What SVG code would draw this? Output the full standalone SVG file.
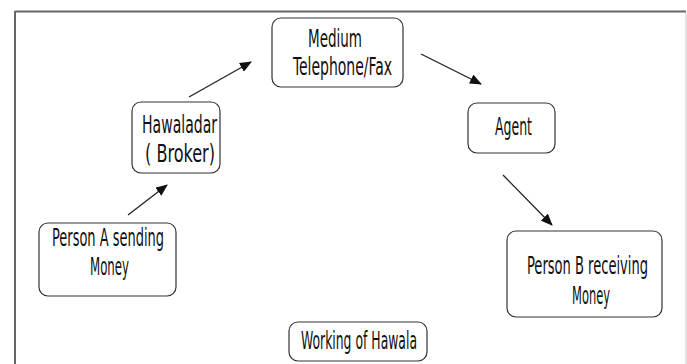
<svg xmlns="http://www.w3.org/2000/svg" width="687" height="364" viewBox="0 0 687 364">
<defs>
<marker id="ah" markerWidth="12" markerHeight="10" refX="11" refY="5" orient="auto" markerUnits="userSpaceOnUse">
<path d="M0,0 L12,5 L0,10 Z" fill="#111"/>
</marker>
<style>
.box{fill:#fff;stroke:#333;stroke-width:1.2}
.t{font-family:"DejaVu Sans Condensed","Liberation Sans Narrow","Liberation Sans",sans-serif;font-size:24px;fill:#111;text-anchor:start}
.c{stroke:#222;stroke-width:1.3;fill:none;marker-end:url(#ah)}
</style>
</defs>
<rect x="0" y="0" width="687" height="364" fill="#fff"/>
<g id="frame">
<line x1="15" y1="11.5" x2="686" y2="11.5" stroke="#666" stroke-width="2"/>
<line x1="15" y1="11" x2="15" y2="364" stroke="#666" stroke-width="2"/>
<line x1="686" y1="12" x2="686" y2="364" stroke="#c8c8c8" stroke-width="1"/>
</g>
<g id="connectors">
<line class="c" x1="128" y1="215" x2="167" y2="185"/>
<line class="c" x1="189" y1="97" x2="251" y2="62"/>
<line class="c" x1="421" y1="54" x2="481" y2="84"/>
<line class="c" x1="503" y1="175" x2="552" y2="225"/>
</g>
<g id="medium">
<rect class="box" x="272" y="18" width="131" height="69" rx="9"/>
<text class="t" x="308" y="47" textLength="54" lengthAdjust="spacingAndGlyphs">Medium</text>
<text class="t" x="293" y="75" textLength="99" lengthAdjust="spacingAndGlyphs">Telephone/Fax</text>
</g>
<g id="hawaladar">
<rect class="box" x="132" y="102" width="88" height="71" rx="9"/>
<text class="t" x="142" y="133" textLength="75" lengthAdjust="spacingAndGlyphs">Hawaladar</text>
<text class="t" x="145" y="162" textLength="70" lengthAdjust="spacingAndGlyphs">( Broker)</text>
</g>
<g id="agent">
<rect class="box" x="468" y="103" width="87" height="50" rx="9"/>
<text class="t" x="495" y="135" textLength="37" lengthAdjust="spacingAndGlyphs">Agent</text>
</g>
<g id="personA">
<rect class="box" x="39" y="223" width="137" height="73" rx="9"/>
<text class="t" x="52" y="246" textLength="112" lengthAdjust="spacingAndGlyphs">Person A sending</text>
<text class="t" x="90" y="275" textLength="39" lengthAdjust="spacingAndGlyphs">Money</text>
</g>
<g id="personB">
<rect class="box" x="507" y="231" width="155" height="86" rx="9"/>
<text class="t" x="527" y="274" textLength="121" lengthAdjust="spacingAndGlyphs">Person B receiving</text>
<text class="t" x="572" y="304" textLength="38" lengthAdjust="spacingAndGlyphs">Money</text>
</g>
<g id="title">
<rect class="box" x="289" y="322" width="138" height="39" rx="9"/>
<text class="t" x="301" y="349" textLength="116" lengthAdjust="spacingAndGlyphs">Working of Hawala</text>
</g>
</svg>
